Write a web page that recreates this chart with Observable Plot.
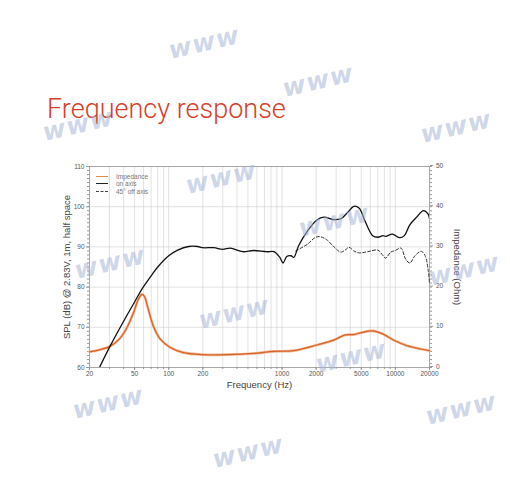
<!DOCTYPE html>
<html>
<head>
<meta charset="utf-8">
<script src="https://cdn.jsdelivr.net/npm/d3@7"></script>
<script src="https://cdn.jsdelivr.net/npm/@observablehq/plot@0.6"></script>
<style>
  html, body { margin: 0; padding: 0; background: #fff; }
  #page { position: relative; width: 510px; height: 490px; overflow: hidden; font-family: "Liberation Sans", Arial, sans-serif; }
  #title { position: absolute; left: 47px; top: 93px; font-family: Roboto, "Open Sans", sans-serif; font-weight: 300; font-size: 27px; color: #d6402a; white-space: nowrap; }
  #chart { position: absolute; left: 0; top: 150px; }
  #legend { position: absolute; left: 96px; top: 173px; font-size: 6.5px; color: #777; line-height: 7.3px; }
  #legend div { display: flex; align-items: center; }
  #legend span.k { display: inline-block; width: 12px; height: 0; margin-right: 8px; }
  .wm { position: absolute; font-family: "DejaVu Sans", sans-serif; font-weight: bold; font-style: italic; font-size: 25px; color: rgba(165,180,215,0.55); transform: rotate(-13deg); white-space: nowrap; pointer-events: none; letter-spacing: 1px; }
</style>
</head>
<body>
<div id="page">
  <div id="title">Frequency response</div>
  <div id="chart"></div>
  <div id="legend"></div>
</div>
<script>
// ---- data ----
const onAxisFreq = [24.5, 30, 40, 50, 58, 70, 80, 100, 120, 150, 180, 200, 250, 300, 350, 450, 560, 730, 850, 950, 1020, 1100, 1200, 1270, 1400, 1680, 2030, 2340, 2850, 3300, 3800, 4300, 4800, 5380, 6300, 7000, 7800, 8200, 9400, 10900, 12000, 13400, 15400, 17700, 19400, 20000];
const onAxisSPL  = [60, 65, 71.5, 76.3, 79.5, 82.8, 85, 87.8, 89.2, 90.1, 90.1, 89.8, 89.8, 89.4, 89.7, 88.8, 89.1, 88.8, 88.8, 87.5, 86.0, 87.6, 87.8, 87.4, 90.3, 94, 96.7, 97.4, 96.8, 97.0, 98.6, 100.1, 99.6, 96.5, 92.8, 92.4, 92.8, 92.6, 93.2, 92.3, 92.8, 95.5, 97.4, 99.0, 98.2, 97.0];

const offAxisFreq = [1320, 1680, 1980, 2200, 2500, 2850, 3300, 3600, 3900, 4300, 4800, 5700, 7000, 7800, 8200, 9100, 10000, 11200, 12300, 13400, 14900, 16900, 18300, 19500, 20000];
const offAxisSPL  = [89.0, 90.7, 92.4, 92.5, 91.7, 90.1, 88.7, 89.2, 89.9, 89.0, 88.5, 88.8, 89.2, 87.8, 87.2, 88.7, 89.1, 89.7, 87.0, 86.0, 87.8, 88.9, 87.8, 84.1, 80.8];

const impFreq = [20, 24.5, 30, 37, 42, 49, 54, 58, 61, 66, 73, 84, 103, 135, 200, 326, 560, 850, 1270, 2030, 2850, 3600, 4300, 4900, 6300, 7800, 9700, 12700, 16700, 20000];
const impOhm  = [3.9, 4.4, 5.2, 7.2, 9.5, 13.7, 17, 18.2, 17.7, 14.5, 10.4, 7.1, 5, 3.7, 3.2, 3.2, 3.5, 4.0, 4.2, 5.6, 6.8, 8.1, 8.2, 8.6, 9.1, 8.3, 6.8, 5.4, 4.6, 4.2];

const xTickLabels = [20, 50, 100, 200, 1000, 2000, 5000, 10000, 20000];
const splTicks = [60, 70, 80, 90, 100, 110];
const impTicks = [0, 10, 20, 30, 40, 50];
const legendLabels = ["Impedance", "on axis", "45° off axis"];

// ---- build ----
const OFFSET = 60; // impedance axis 0-50 shares pixel span with SPL 60-110
const onAxis = onAxisFreq.map((f, i) => ({f, v: onAxisSPL[i]}));
const offAxis = offAxisFreq.map((f, i) => ({f, v: offAxisSPL[i]}));
const imp = impFreq.map((f, i) => ({f, v: impOhm[i] + OFFSET}));

const minorX = [];
for (const dec of [10, 100, 1000, 10000]) for (let m = 1; m <= 9; m++) { const v = m * dec; if (v >= 20 && v <= 20000) minorX.push(v); }
const minorY = d3.range(60, 110.01, 1);

const grey = "#9a9a9a";
const plot = Plot.plot({
  width: 510, height: 250,
  marginLeft: 89, marginRight: 81, marginTop: 16, marginBottom: 33,
  style: { fontFamily: '"Liberation Sans", Arial, sans-serif', fontSize: "6.5px", color: "#555", background: "transparent" },
  x: { type: "log", domain: [20, 20000], label: null },
  y: { domain: [60, 110], label: null },
  marks: [
    Plot.gridX(minorX, { stroke: "#cfcfcf", strokeOpacity: 1, strokeWidth: 0.6 }),
    Plot.gridY(splTicks, { stroke: "#cfcfcf", strokeOpacity: 1, strokeWidth: 0.6 }),
    Plot.frame({ stroke: grey, strokeWidth: 0.8 }),
    Plot.axisX(minorX, { tickSize: 2, text: null, stroke: grey, label: null }),
    Plot.axisX(xTickLabels, { tickSize: 3, text: null, stroke: grey, label: null }),
    Plot.text(xTickLabels, { x: d => d, frameAnchor: "bottom", dy: 8.5, text: d => String(d), fill: "#555", fontSize: 6.5 }),
    Plot.axisY(minorY, { anchor: "left", tickSize: 2, text: null, stroke: grey, label: null }),
    Plot.axisY(splTicks, { anchor: "left", tickSize: 3, tickPadding: 2, stroke: grey, label: null, fill: "#555" }),
    Plot.axisY(minorY, { anchor: "right", tickSize: 2, text: null, stroke: grey, label: null }),
    Plot.axisY(impTicks.map(t => t + OFFSET), { anchor: "right", tickSize: 3, tickPadding: 3.5, dy: -1, stroke: grey, label: null, fill: "#555", tickFormat: d => String(d - OFFSET) }),
    Plot.text(["SPL (dB) @ 2.83V, 1m, half space"], { frameAnchor: "left", dx: -23, rotate: -90, textAnchor: "middle", fontSize: 9.5, fill: "#444" }),
    Plot.text(["Impedance (Ohm)"], { frameAnchor: "right", dx: 28, rotate: 90, textAnchor: "middle", fontSize: 9.5, fill: "#444" }),
    Plot.text(["Frequency (Hz)"], { frameAnchor: "bottom", dy: 20, textAnchor: "middle", fontSize: 9.5, fill: "#444" }),
    Plot.line(imp, { x: "f", y: "v", curve: "catmull-rom", stroke: "#f0b890", strokeWidth: 2.6 }),
    Plot.line(imp, { x: "f", y: "v", curve: "catmull-rom", stroke: "#d9622a", strokeWidth: 1.2 }),
    Plot.line(offAxis, { x: "f", y: "v", curve: "catmull-rom", stroke: "#333", strokeWidth: 1, strokeDasharray: "3,2" }),
    Plot.line(onAxis, { x: "f", y: "v", curve: "catmull-rom", stroke: "#111", strokeWidth: 1.3, clip: true })
  ]
});
document.getElementById("chart").appendChild(plot);

// legend
const legendStyles = ["border-top:1.6px solid #e08a50", "border-top:1.4px solid #222", "border-top:1px dashed #444"];
const lg = document.getElementById("legend");
legendLabels.forEach((t, i) => {
  const row = document.createElement("div");
  row.innerHTML = `<span class="k" style="${legendStyles[i]}"></span><span>${t}</span>`;
  lg.appendChild(row);
});

// watermark text
const wmPos = [[168, 28], [282, 66], [42, 110], [420, 112], [185, 163], [298, 206], [74, 248], [198, 298], [315, 342], [428, 255], [72, 388], [425, 394], [212, 437]];
const page = document.getElementById("page");
wmPos.forEach(([x, y]) => {
  const s = document.createElement("div");
  s.className = "wm";
  s.style.left = x + "px";
  s.style.top = y + "px";
  s.textContent = "www";
  page.appendChild(s);
});
</script>
</body>
</html>
